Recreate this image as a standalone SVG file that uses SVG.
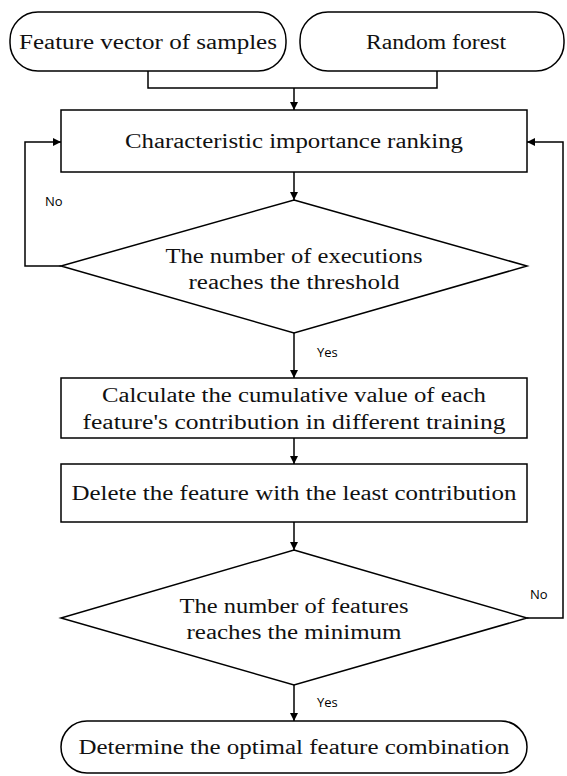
<svg xmlns="http://www.w3.org/2000/svg" width="567" height="776" viewBox="0 0 567 776">
<style>
.s{fill:#fff;stroke:#000;stroke-width:1.5}
.t{font-family:"Liberation Serif",serif;font-size:20px;fill:#111;text-anchor:middle}
.l{font-family:"Open Sans","Liberation Sans",sans-serif;font-size:13px;fill:#000}
.c{fill:none;stroke:#000;stroke-width:1.5}
</style>
<defs>
<marker id="a" viewBox="0 0 10 10" refX="10" refY="5" markerWidth="8" markerHeight="8" markerUnits="userSpaceOnUse" orient="auto">
<path d="M0,0L10,5L0,10z" fill="#000"/>
</marker>
</defs>
<rect width="567" height="776" fill="#fff"/>
<g id="n1"><rect class="s" x="10" y="12" width="276" height="59" rx="28"/><text class="t" x="148" y="49" textLength="258" lengthAdjust="spacingAndGlyphs">Feature vector of samples</text></g>
<g id="n2"><rect class="s" x="300" y="12" width="264" height="59" rx="28"/><text class="t" x="436" y="49" textLength="140" lengthAdjust="spacingAndGlyphs">Random forest</text></g>
<g id="n3"><rect class="s" x="61" y="110" width="466" height="62"/><text class="t" x="294" y="148" textLength="338" lengthAdjust="spacingAndGlyphs">Characteristic importance ranking</text></g>
<g id="n4"><polygon class="s" points="294,200 527,266 294,333 61,266"/><text class="t" x="294" y="263" textLength="257" lengthAdjust="spacingAndGlyphs">The number of executions</text><text class="t" x="294" y="289" textLength="211" lengthAdjust="spacingAndGlyphs">reaches the threshold</text></g>
<g id="n5"><rect class="s" x="61" y="378" width="466" height="60"/><text class="t" x="294" y="402" textLength="384" lengthAdjust="spacingAndGlyphs">Calculate the cumulative value of each</text><text class="t" x="294" y="429" textLength="423" lengthAdjust="spacingAndGlyphs">feature's contribution in different training</text></g>
<g id="n6"><rect class="s" x="61" y="464" width="466" height="58"/><text class="t" x="294" y="500" textLength="445" lengthAdjust="spacingAndGlyphs">Delete the feature with the least contribution</text></g>
<g id="n7"><polygon class="s" points="294,550 527,618 294,685 61,618"/><text class="t" x="294" y="613" textLength="229" lengthAdjust="spacingAndGlyphs">The number of features</text><text class="t" x="294" y="639" textLength="215" lengthAdjust="spacingAndGlyphs">reaches the minimum</text></g>
<g id="n8"><rect class="s" x="61" y="721" width="466" height="52" rx="26"/><text class="t" x="294" y="754" textLength="431" lengthAdjust="spacingAndGlyphs">Determine the optimal feature combination</text></g>
<g id="connectors">
<path class="c" d="M148,71V88H437V71"/>
<path class="c" d="M294,88V110" marker-end="url(#a)"/>
<path class="c" d="M294,172V200" marker-end="url(#a)"/>
<path class="c" d="M61,266H25V142H61" marker-end="url(#a)"/>
<path class="c" d="M294,333V378" marker-end="url(#a)"/>
<path class="c" d="M294,438V464" marker-end="url(#a)"/>
<path class="c" d="M294,522V550" marker-end="url(#a)"/>
<path class="c" d="M527,618H563V142H527" marker-end="url(#a)"/>
<path class="c" d="M294,685V721" marker-end="url(#a)"/>
<text class="l" x="45" y="206">No</text>
<text class="l" x="317" y="357">Yes</text>
<text class="l" x="530" y="599">No</text>
<text class="l" x="317" y="707">Yes</text>
</g>
</svg>
